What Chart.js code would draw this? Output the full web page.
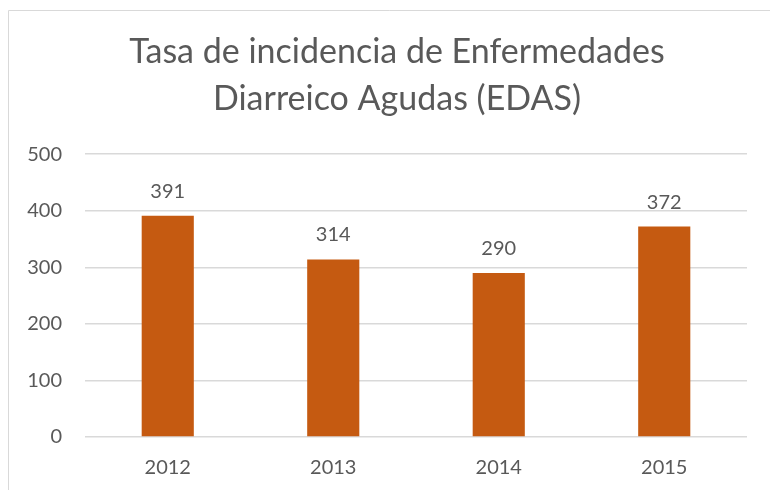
<!DOCTYPE html>
<html>
<head>
<meta charset="utf-8">
<script src="https://cdn.jsdelivr.net/npm/chart.js@4.4.0/dist/chart.umd.min.js"></script>
<style>
  html, body { margin: 0; padding: 0; background: #fff; overflow: hidden; }
  #wrap { width: 770px; height: 490px; }
</style>
</head>
<body>
<div id="wrap"><canvas id="chart" width="770" height="490"></canvas></div>
<script>
// data
const years = ['2012', '2013', '2014', '2015'];
const rates = [391, 314, 290, 372];
const yTicks = [0, 100, 200, 300, 400, 500];
const titleLines = ['Tasa de incidencia de Enfermedades', 'Diarreico Agudas (EDAS)'];

const textColor = '#595959';
const gridColor = '#d9d9d9';

// light frame round the chart, like the office chart area
const framePlugin = {
    id: 'frame',
    beforeDraw(chart) {
        const ctx = chart.ctx;
        ctx.save();
        ctx.strokeStyle = gridColor;
        ctx.lineWidth = 1;
        ctx.beginPath();
        ctx.moveTo(8.5, 490);
        ctx.lineTo(8.5, 10.5);
        ctx.lineTo(770, 10.5);
        ctx.stroke();
        ctx.restore();
    },
    // the left padding is only there to centre the title; let the y labels use it
    afterLayout(chart) {
        chart.scales.y.left = 0;
    }
};

// value labels above the bars
const valueLabels = {
    id: 'valueLabels',
    afterDatasetsDraw(chart) {
        const ctx = chart.ctx;
        const meta = chart.getDatasetMeta(0);
        ctx.save();
        ctx.font = '20px Lato';
        ctx.fillStyle = textColor;
        ctx.textAlign = 'center';
        ctx.textBaseline = 'middle';
        meta.data.forEach((bar, i) => {
            ctx.fillText(rates[i], bar.x, bar.y - 24.5);
        });
        ctx.restore();
    }
};

const ctx = document.getElementById('chart').getContext('2d');
const chart = new Chart(ctx, {
    type: 'bar',
    data: {
        labels: years,
        datasets: [{
            data: rates,
            backgroundColor: '#C55A11',
            barPercentage: 0.63,
            categoryPercentage: 0.5
        }]
    },
    options: {
        responsive: false,
        animation: false,
        layout: { padding: { top: 29, right: 23, bottom: -9, left: 47 } },
        plugins: {
            legend: { display: false },
            tooltip: { enabled: false },
            title: {
                display: true,
                text: titleLines,
                color: textColor,
                font: { family: 'Lato', size: 34, weight: 'normal', lineHeight: 1.37 },
                padding: { top: 0, bottom: 32 }
            }
        },
        scales: {
            x: {
                grid: { display: false, drawTicks: false },
                border: { display: false },
                ticks: { color: textColor, font: { family: 'Lato', size: 20 }, padding: 19 }
            },
            y: {
                min: 0,
                max: 500,
                afterBuildTicks(scale) {
                    scale.ticks = yTicks.map(v => ({ value: v }));
                },
                afterFit(scale) {
                    scale.width = 38;
                },
                grid: { color: gridColor, lineWidth: 1.5, drawTicks: false },
                border: { display: false },
                ticks: { color: textColor, font: { family: 'Lato', size: 20 }, padding: 23 }
            }
        }
    },
    plugins: [framePlugin, valueLabels]
});
</script>
</body>
</html>
